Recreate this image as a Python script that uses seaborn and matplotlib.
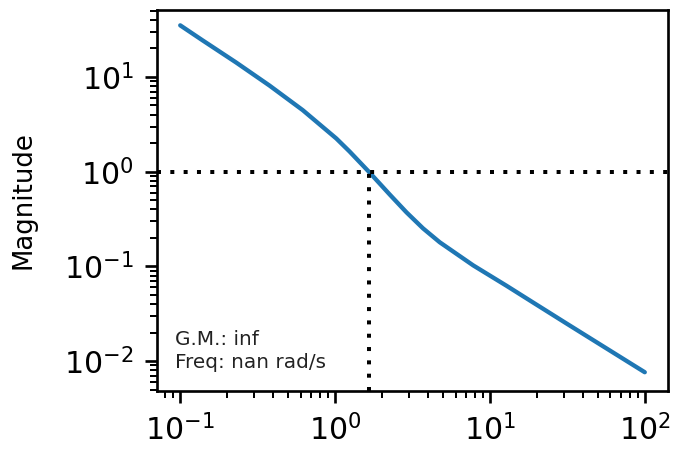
import numpy as np
import pandas as pd
import matplotlib
matplotlib.use("Agg")
import matplotlib.pyplot as plt
import seaborn as sns

# Data (frequency in rad/s, magnitude)
freq = [0.1, 0.1393, 0.2296, 0.3767, 0.618, 1.018, 1.241, 1.656, 2.254, 2.891,
        3.698, 4.742, 7.798, 12.82, 19.05, 31.33, 51.52, 84.53, 100.0]
mag = [35.08, 24.38, 14.22, 8.128, 4.467, 2.244, 1.633, 0.9954, 0.5741, 0.3724,
       0.2523, 0.1799, 0.1026, 0.0624, 0.0415, 0.0249, 0.0150, 0.00906, 0.00764]
crossover_freq = 1.655
ref_level = 1.0
annotation = "G.M.: inf\nFreq: nan rad/s"
ylabel = "Magnitude"

DPI = 240
sns.set_style("ticks")
plt.rcParams.update({
    "font.family": ["DejaVu Sans"],
    "axes.edgecolor": "black",
    "axes.linewidth": 0.8,
    "xtick.color": "black",
    "ytick.color": "black",
    "text.color": "black",
    "axes.labelcolor": "black",
    "xtick.major.size": 3.5,
    "ytick.major.size": 3.5,
    "xtick.minor.size": 2,
    "ytick.minor.size": 2,
    "xtick.major.width": 0.8,
    "ytick.major.width": 0.8,
    "xtick.minor.width": 0.6,
    "ytick.minor.width": 0.6,
    "xtick.labelsize": 9.0,
    "ytick.labelsize": 9.0,
    "axes.labelsize": 7.8,
})

df = pd.DataFrame({"freq": freq, "mag": mag})

fig = plt.figure(figsize=(673 / DPI, 452 / DPI), dpi=DPI)
ax = fig.add_axes([157 / 673, 1 - 391 / 452, (668 - 157) / 673, (391 - 10) / 452])

sns.lineplot(data=df, x="freq", y="mag", ax=ax, color="#1f77b4", linewidth=1.3)
ax.set_xscale("log")
ax.set_yscale("log")

ax.set_xlim(10 ** -1.15, 10 ** 2.15)
ylo, yhi = 10 ** -2.315, 10 ** 1.707
ax.set_ylim(ylo, yhi)

dots = (0, (1, 2.33))
ax.axhline(ref_level, color="black", linestyle=dots, linewidth=1.2)
ax.vlines(crossover_freq, ylo, ref_level, color="black", linestyle=dots, linewidth=1.2)

ax.text(0.035, 0.05, annotation, transform=ax.transAxes, fontsize=6.0,
        va="bottom", ha="left", color="#222222", linespacing=1.25)

ax.set_xlabel("")
ax.set_ylabel(ylabel)
ax.yaxis.set_label_coords(-0.235, 0.5)

fig.savefig("out.png", dpi=DPI)
